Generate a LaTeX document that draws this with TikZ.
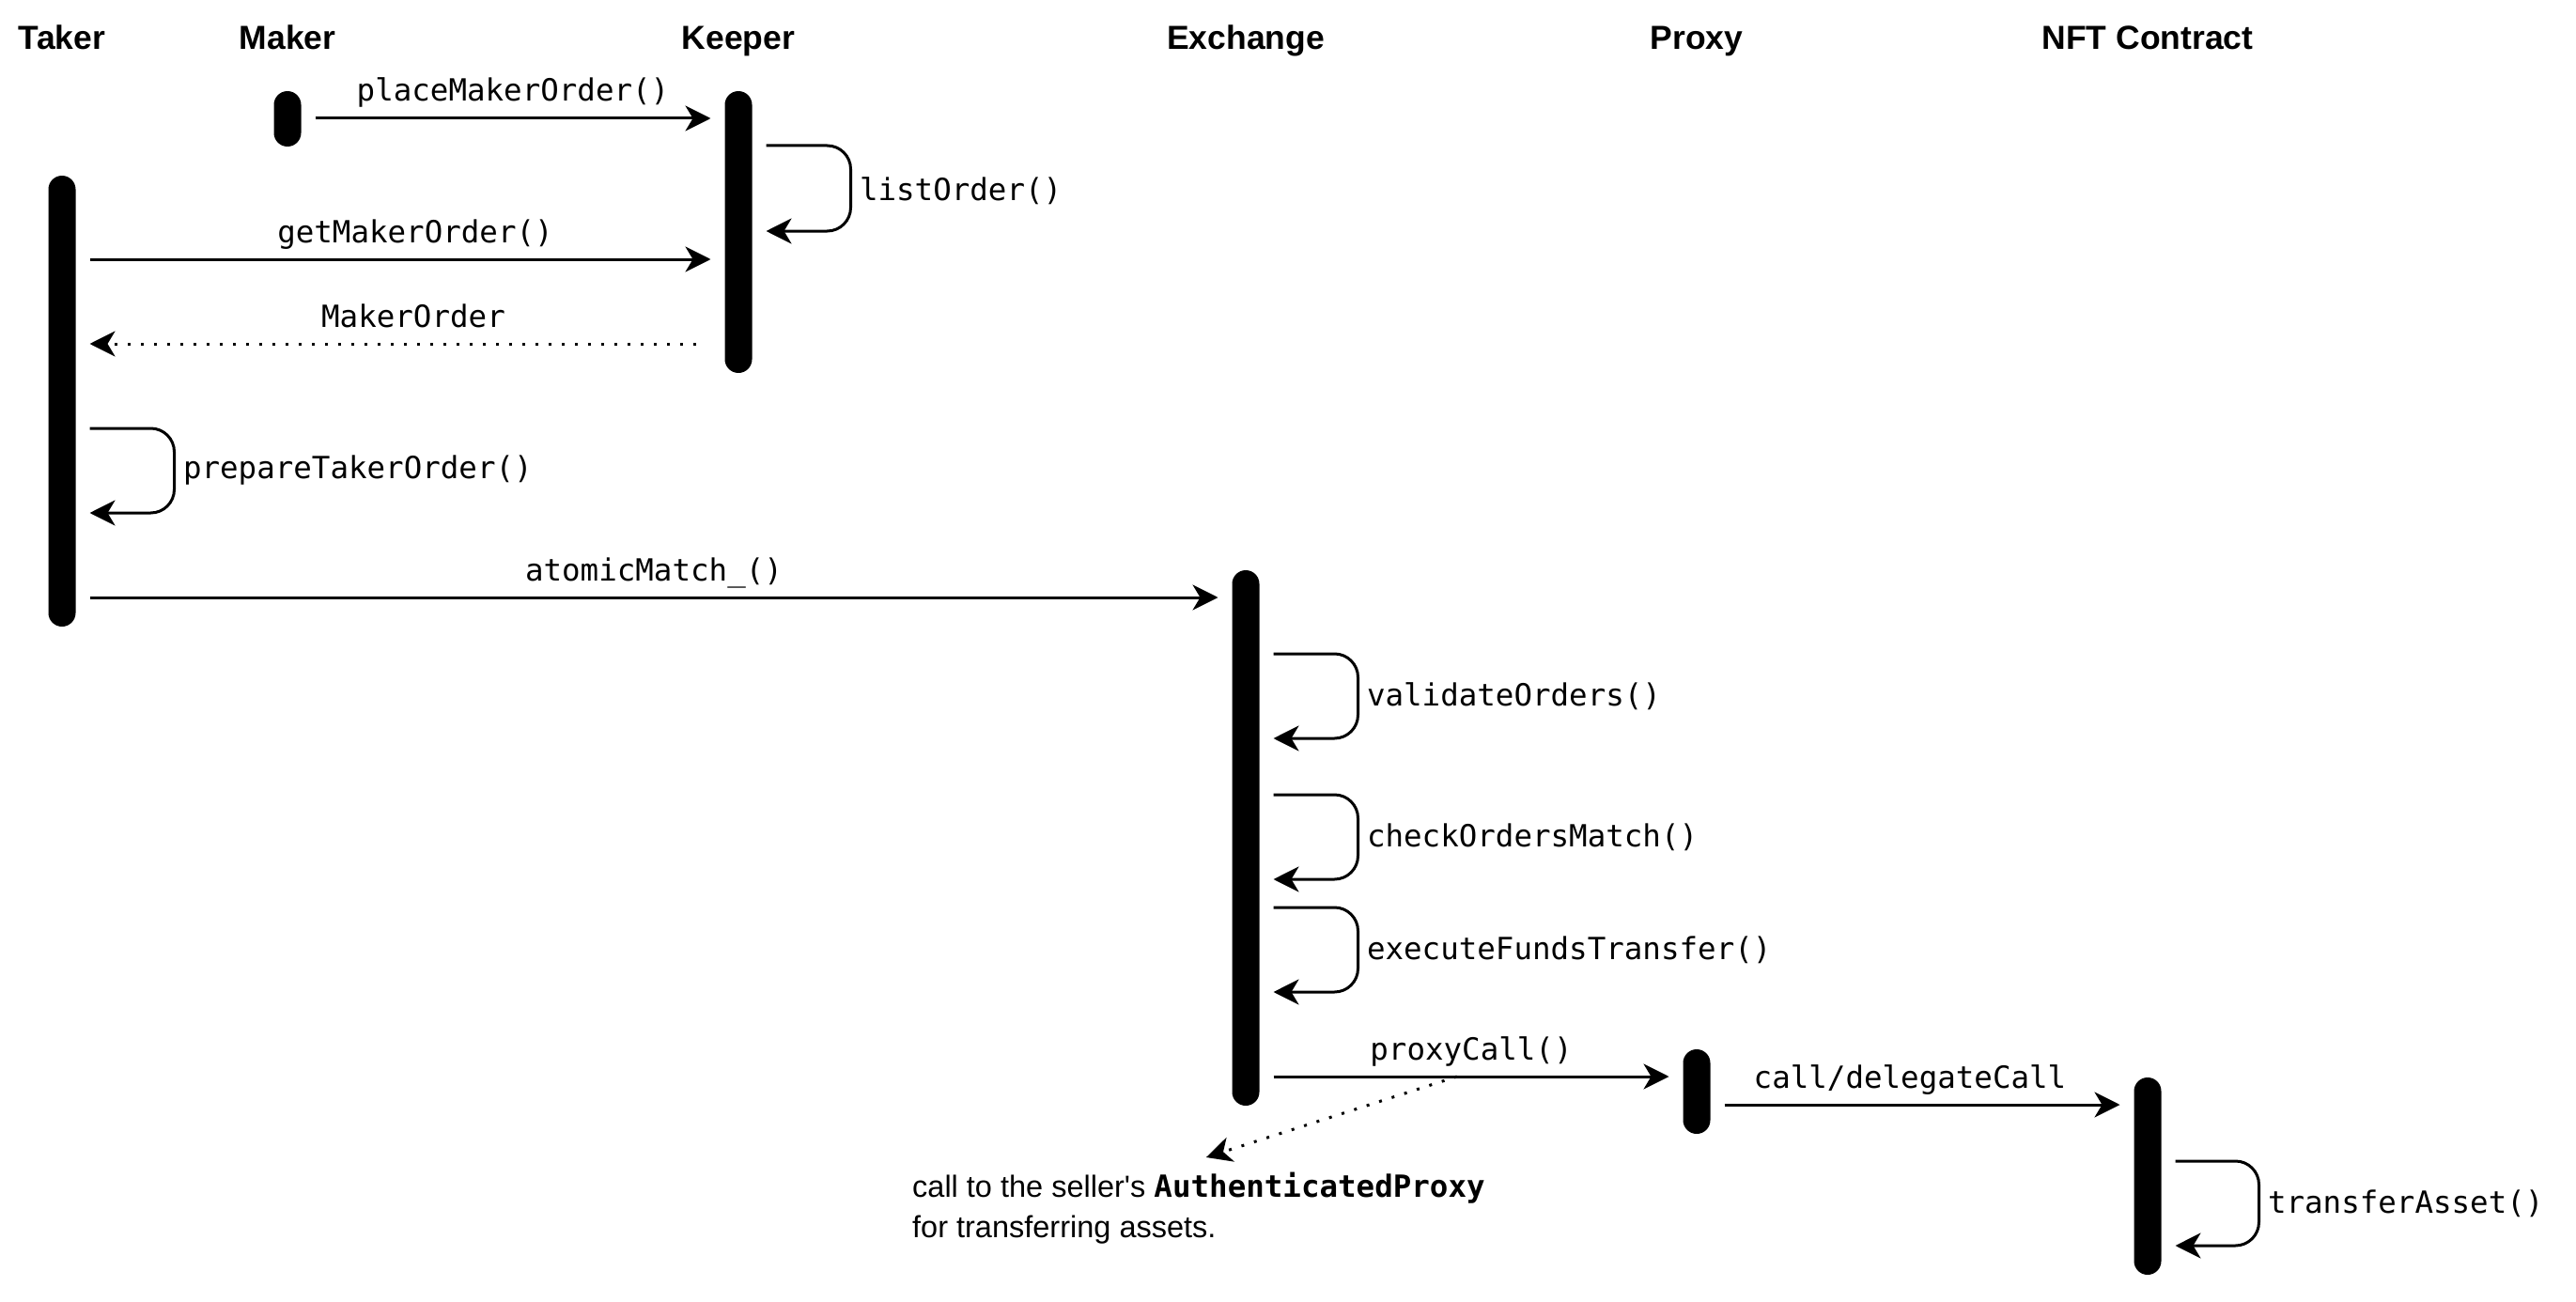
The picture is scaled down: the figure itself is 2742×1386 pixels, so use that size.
\documentclass[tikz,border=0pt]{standalone}
\usepackage{fontspec}
\setmainfont{Liberation Sans}
\setmonofont{DejaVu Sans Mono}
\usetikzlibrary{arrows.meta}
\begin{document}
\begin{tikzpicture}[x=1pt,y=-1pt,
  bar/.style={fill=black, rounded corners=14.5pt, minimum width=29pt, inner sep=0pt, outer xsep=15pt},
  hdr/.style={font=\fontsize{35.5pt}{40pt}\selectfont\bfseries, anchor=base, inner sep=0pt},
  lbl/.style={font=\fontsize{32.5pt}{38pt}\selectfont\ttfamily, anchor=base, inner sep=0pt, yshift=18pt},
  looplbl/.style={font=\fontsize{32.5pt}{38pt}\selectfont\ttfamily, anchor=west, inner sep=0pt, xshift=8pt},
  note/.style={font=\fontsize{32.5pt}{43pt}\selectfont, align=left, inner sep=0pt},
  msg/.style={line width=3pt, -{Stealth[length=27pt,width=27pt,inset=8pt]}},
  ret/.style={msg, dash pattern=on 3pt off 11pt},
  selfloop/.style={msg, rounded corners=25pt}]
\useasboundingbox (0,0) rectangle (2742,1386);

% headers
\node[hdr] (hTaker) at (66,53) {Taker};
\node[hdr] (hMaker) at (306,53) {Maker};
\node[hdr] (hKeeper) at (786,53) {Keeper};
\node[hdr] (hExchange) at (1326,53) {Exchange};
\node[hdr] (hProxy) at (1806,53) {Proxy};
\node[hdr] (hNFT) at (2286,53) {NFT Contract};

% activation bars
\node[bar, minimum height=480pt] (taker) at (66,427) {};
\node[bar, minimum height=59pt] (maker) at (306,126.5) {};
\node[bar, minimum height=300pt] (keeper) at (786,247) {};
\node[bar, minimum height=570pt] (exch) at (1326,892) {};
\node[bar, minimum height=90pt] (proxy) at (1806,1162) {};
\node[bar, minimum height=210pt] (nft) at (2286,1252) {};

% messages
\draw[msg] (maker.east |- 0,126) -- node[lbl] (lPlace) {placeMakerOrder()} (keeper.west |- 0,126);
\draw[selfloop] (keeper.east |- 0,155) -- ++(90,0) -- node[looplbl, yshift=-3pt] (lList) {listOrder()} ++(0,91) -- (keeper.east |- 0,246);
\draw[msg] (taker.east |- 0,276) -- node[lbl, xshift=16pt] (lGet) {getMakerOrder()} (keeper.west |- 0,276);
\draw[ret, shorten <=16pt] (keeper.west |- 0,366) -- node[lbl, xshift=14pt] (lRet) {MakerOrder} (taker.east |- 0,366);
\draw[selfloop] (taker.east |- 0,456) -- ++(90,0) -- node[looplbl] (lPrep) {prepareTakerOrder()} ++(0,90) -- (taker.east |- 0,546);
\draw[msg] (taker.east |- 0,636) -- node[lbl] (lAtomic) {atomicMatch\_()} (exch.west |- 0,636);
\draw[selfloop] (exch.east |- 0,696) -- ++(90,0) -- node[looplbl] (lVal) {validateOrders()} ++(0,90) -- (exch.east |- 0,786);
\draw[selfloop] (exch.east |- 0,846) -- ++(90,0) -- node[looplbl] (lCheck) {checkOrdersMatch()} ++(0,90) -- (exch.east |- 0,936);
\draw[selfloop] (exch.east |- 0,966) -- ++(90,0) -- node[looplbl] (lExec) {executeFundsTransfer()} ++(0,90) -- (exch.east |- 0,1056);
\draw[msg] (exch.east |- 0,1146) -- coordinate[pos=0.464] (pcmid) node[lbl] (lProxy) {proxyCall()} (proxy.west |- 0,1146);
\draw[msg] (proxy.east |- 0,1176) -- node[lbl, xshift=-13pt] (lCall) {call/delegateCall} (nft.west |- 0,1176);
\draw[selfloop] (nft.east |- 0,1236) -- ++(89,0) -- node[looplbl] (lTransfer) {transferAsset()} ++(0,90) -- (nft.east |- 0,1326);

% annotation
\node[note, anchor=north west] (note) at (971,1248) {call to the seller\textquotesingle s {\ttfamily\bfseries AuthenticatedProxy}\\for transferring assets.};
\draw[ret] (pcmid) -- ([xshift=8pt,yshift=16pt]note.north);
\end{tikzpicture}
\end{document}
